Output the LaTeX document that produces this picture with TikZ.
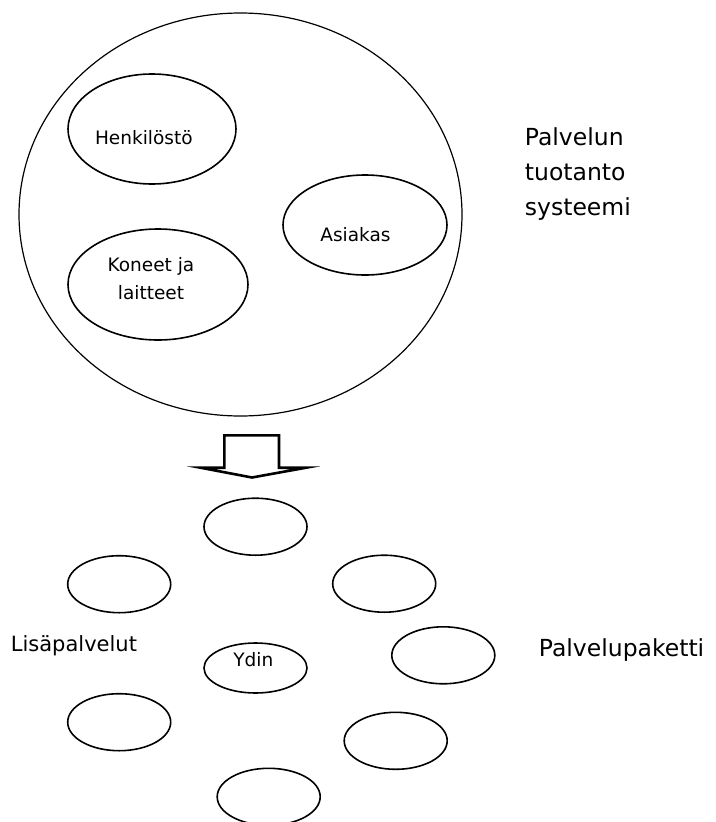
\documentclass[tikz,border=0pt]{standalone}
\usepackage{fontspec}
\setmainfont{DejaVu Sans}
\usetikzlibrary{shapes.geometric,positioning}

\tikzset{
  soikio/.style={draw, ellipse, line width=1.6pt, inner sep=0pt},
  pieni/.style={soikio, minimum width=103pt, minimum height=57pt},
  sisa/.style={inner sep=0pt, font=\fontsize{18.5}{28.3}\selectfont, align=center},
  ulko/.style={inner sep=0pt, font=\fontsize{23.5}{35}\selectfont, align=left}
}

\begin{document}
\begin{tikzpicture}[x=1pt, y=-1pt]
    \useasboundingbox (0,0) rectangle (715,822);

    % Palvelun tuotantosysteemi (iso soikio)
    \node[soikio, line width=1.2pt, minimum width=443pt, minimum height=403pt] (systeemi) at (240.5,214.5) {};
    \node[soikio, minimum width=168pt, minimum height=110pt] (henkilosto) at (152,129) {};
    \node[soikio, minimum width=164pt, minimum height=100pt] (asiakas) at (365,225) {};
    \node[soikio, minimum width=180pt, minimum height=111pt] (koneet) at (158,284.5) {};
    \node[sisa, anchor=base] (henkteksti) at (143.8,144) {Henkilöstö};
    \node[sisa, anchor=base] (asiakasteksti) at (355.5,241.7) {Asiakas};
    \node[sisa] (koneteksti) at (151,278.6) {Koneet ja\\laitteet};
    \node[ulko, anchor=west] (tuotanto) at (524.7,173.8) {Palvelun\\tuotanto\\systeemi};

    % Nuoli alaspäin
    \draw[line width=2.6pt, miter limit=20] (224.3,467.7) -- (224.3,435.3) -- (279,435.3) -- (279,467.7)
        -- (306,467.7) -- (252,477.5) -- (200.5,467.7) -- cycle;

    % Palvelupaketti: ydin ja lisäpalvelut
    \node[soikio, minimum width=103pt, minimum height=50pt] (ydin) at (255.5,668) {};
    \node[sisa, anchor=base] (ydinteksti) at (253.3,666.7) {Ydin};
    \node[pieni] (lisa1) at (255.5,526.7) {};  % ylin
    \node[pieni] (lisa2) at (119.2,584.2) {};  % vasen ylä
    \node[pieni] (lisa3) at (384.2,583.7) {};  % oikea ylä
    \node[pieni] (lisa4) at (443.3,655.3) {};  % oikea keski
    \node[pieni] (lisa5) at (119.2,722.2) {};  % vasen ala
    \node[pieni] (lisa6) at (395.7,740.8) {};  % oikea ala
    \node[pieni] (lisa7) at (268.7,796.8) {};  % alin
    \node[ulko, font=\fontsize{21}{30}\selectfont, anchor=base west] (lisapalvelut) at (10.7,651.7) {Lisäpalvelut};
    \node[ulko, anchor=base west] (paketti) at (538.7,656.7) {Palvelupaketti};
\end{tikzpicture}
\end{document}
